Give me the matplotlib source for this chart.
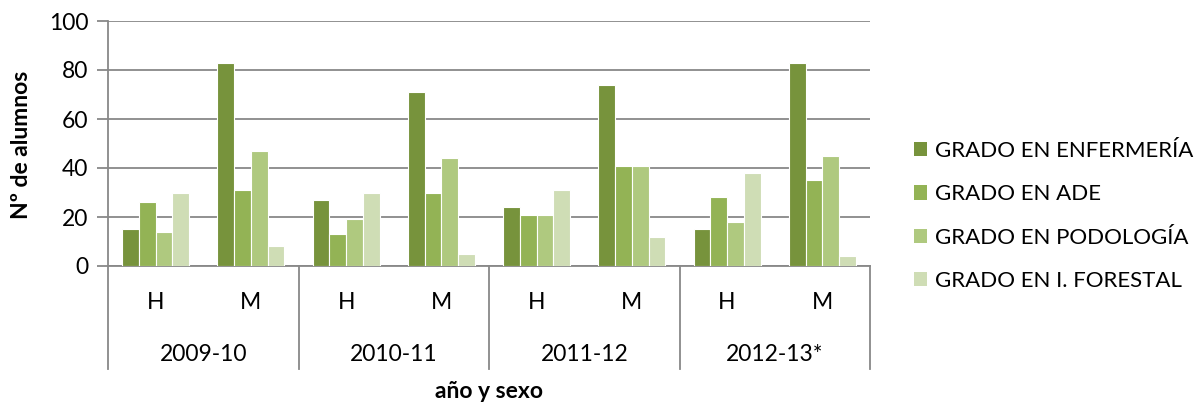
import matplotlib.pyplot as plt
import matplotlib.transforms as mtransforms
import numpy as np

plt.rcParams['font.family'] = ['Lato', 'DejaVu Sans']

years = ["2009-10", "2010-11", "2011-12", "2012-13*"]
sexes = ["H", "M"]
series = ["GRADO EN ENFERMERÍA", "GRADO EN ADE", "GRADO EN PODOLOGÍA", "GRADO EN I. FORESTAL"]

# order: 2009-10 H, 2009-10 M, 2010-11 H, ...
enfermeria = [15, 83, 27, 71, 24, 74, 15, 83]
ade = [26, 31, 13, 30, 21, 41, 28, 35]
podologia = [14, 47, 19, 44, 21, 41, 18, 45]
forestal = [30, 8, 30, 5, 31, 12, 38, 4]

colors = ["#77933C", "#93B355", "#AFC97F", "#CFDDB5"]
grid_color = "#888888"
fs = 16.5

fig = plt.figure(figsize=(12.01, 4.03), dpi=100)
ax = fig.add_axes([108 / 1201, 1 - 266 / 403, (870 - 108) / 1201, (266 - 21) / 403])

x = np.arange(len(enfermeria))
w = 0.176
for i, (vals, name, c) in enumerate(zip([enfermeria, ade, podologia, forestal], series, colors)):
    ax.bar(x + (i - 1.5) * w, vals, w, color=c, edgecolor="white", linewidth=0.8,
           label=name, zorder=3)

ax.set_xlim(-0.5, len(x) - 0.5)
ax.set_ylim(0, 100)
ax.set_yticks(range(0, 101, 20))
ax.yaxis.grid(True, color=grid_color, linewidth=1.3, zorder=0)
ax.set_axisbelow(True)
ax.tick_params(axis="y", length=8, width=1.3, color=grid_color, labelsize=fs, pad=6)
ax.tick_params(axis="x", bottom=False, labelbottom=False)
for s in ["top", "right"]:
    ax.spines[s].set_visible(False)
for s in ["left", "bottom"]:
    ax.spines[s].set_color(grid_color)
    ax.spines[s].set_linewidth(1.3)

# multi-level category axis
trans = mtransforms.blended_transform_factory(ax.transData, ax.transAxes)
for k in x:
    ax.text(k, -0.147, sexes[k % 2], transform=trans, ha="center", va="center", fontsize=fs)
for j, yr in enumerate(years):
    ax.text(2 * j + 0.5, -0.363, yr, transform=trans, ha="center", va="center", fontsize=fs)
for b in np.arange(-0.5, len(x), 2):
    ax.plot([b, b], [0, -0.42], transform=trans, color=grid_color, linewidth=1.3,
            clip_on=False, zorder=1)

ax.text(0.5, -0.514, "año y sexo", transform=ax.transAxes, ha="center", va="center",
        fontsize=fs, fontweight="bold")
fig.text(22 / 1201, 1 - 145 / 403, "Nº de alumnos", rotation=90, ha="center", va="center",
         fontsize=fs, fontweight="bold")

leg = fig.legend(loc="center left", bbox_to_anchor=(914 / 1201, 1 - 216 / 403), frameon=False,
                 fontsize=16, handlelength=0.6, handleheight=0.6, handletextpad=0.35,
                 labelspacing=1.05, borderpad=0, borderaxespad=0)
for h in leg.legend_handles:
    h.set_edgecolor("none")

fig.savefig("out.png", dpi=100)
